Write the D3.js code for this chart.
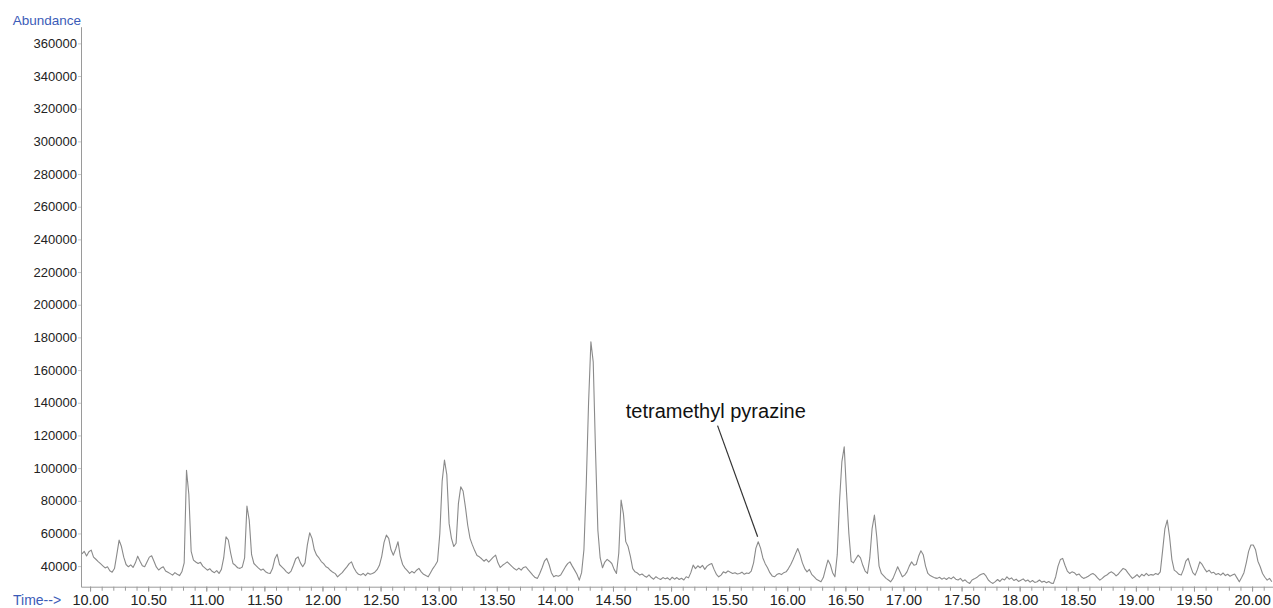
<!DOCTYPE html>
<html lang="en">
<head>
    <meta charset="UTF-8">
    <title>Chromatogram</title>
    <style>
        body { margin: 0; background: #fff; }
        svg text { font-family: "Liberation Sans", Arial, sans-serif; }
    </style>
</head>
<body>
    <svg id="chart" width="1273" height="608"></svg>

    <script src="https://d3js.org/d3.v7.min.js"></script>
    <script>
        // one scan every 0.02 min, first scan at 9.93 min
        const scanStart = 9.93
        const scanStep = 0.02
        const abundance = [
            // 9.93 - 10.41
            47500, 49000, 46200, 48800, 49800, 45500, 44200, 42800, 41500, 40200, 38900, 39600, 37200, 36300, 38500, 47000, 55900, 52000, 45500, 41000, 39600, 40800, 39200, 42000, 46100,
            // 10.43 - 10.91
            43000, 40200, 39600, 42500, 45500, 46300, 43000, 39500, 37600, 38800, 39600, 37000, 36200, 35400, 34500, 36000, 35000, 34200, 36500, 42000, 98700, 84000, 49000, 43700, 42500,
            // 10.93 - 11.41
            41600, 42300, 40000, 38800, 37500, 38400, 36800, 36000, 37200, 35500, 38000, 45000, 58000, 56000, 48000, 41600, 40500, 39000, 38600, 39500, 45000, 76700, 68000, 47000, 41600,
            // 11.43 - 11.91
            40200, 38800, 37500, 38200, 36600, 35800, 35500, 38500, 44500, 47200, 41000, 39600, 38200, 36500, 35500, 37000, 40500, 44500, 45700, 42000, 39600, 42000, 53000, 60400, 57000,
            // 11.93 - 12.41
            50000, 46700, 45000, 42800, 41500, 39600, 38800, 37300, 36200, 35400, 33450, 34800, 36000, 37800, 39500, 41500, 42600, 39000, 36500, 35000, 34500, 35500, 34200, 35800, 35000,
            // 12.43 - 12.91
            35500, 36300, 37800, 40500, 46000, 54500, 59000, 57000, 50000, 46700, 50500, 54900, 46000, 41000, 38800, 37200, 35500, 36800, 35800, 37500, 38600, 36500, 35000, 34200, 33450,
            // 12.93 - 13.41
            36000, 38500, 40500, 43000, 60000, 92000, 104900, 96000, 66000, 57000, 52000, 54000, 78400, 88500, 86000, 76300, 65000, 57000, 53000, 49500, 46500, 45700, 44500, 43000, 44200,
            // 13.43 - 13.91
            42500, 44000, 45500, 46700, 42000, 39200, 40500, 41500, 42600, 41200, 39800, 38500, 37550, 38800, 37500, 39200, 39600, 37800, 36200, 34500, 33000, 32500, 35500, 39000, 43000,
            // 13.93 - 14.41
            44700, 41000, 36000, 33450, 34200, 33800, 34500, 37000, 39500, 41500, 42600, 40000, 37550, 35000, 31400, 36000, 50000, 90000, 140000, 177300, 165000, 110000, 62000, 45000, 39000,
            // 14.43 - 14.91
            42500, 44100, 43000, 41600, 38000, 35500, 48000, 80400, 72000, 55000, 52000, 46000, 38500, 36500, 35800, 34500, 35200, 34000, 33200, 34600, 33000, 32000, 33500, 32500, 31800,
            // 14.93 - 15.41
            33000, 32200, 32800, 31600, 33200, 32000, 33000, 31800, 32600, 31500, 33500, 32800, 36000, 40600, 38500, 40200, 39000, 40500, 38000, 40000, 41000, 41600, 38000, 35000, 33450,
            // 15.43 - 15.91
            34500, 36500, 35800, 37100, 36200, 35500, 36000, 35200, 35500, 36300, 35000, 35800, 35500, 37000, 42000, 51000, 54900, 51000, 45000, 41500, 39000, 36000, 34000, 33450, 34800,
            // 15.93 - 16.41
            35500, 34800, 36000, 36500, 38500, 41000, 44000, 47500, 50800, 47000, 42000, 38500, 36500, 38000, 35000, 33500, 32000, 31200, 30400, 33000, 38500, 43700, 41000, 36000, 33450,
            // 16.43 - 16.91
            47000, 80000, 104000, 113000, 85000, 60000, 43000, 42000, 44500, 46700, 45000, 40500, 37000, 35500, 45000, 63000, 71200, 58000, 40000, 35500, 34000, 32500, 31500, 30400, 32500,
            // 16.93 - 17.41
            36000, 39600, 36500, 33450, 34500, 36500, 40000, 42600, 40500, 41000, 46000, 49400, 47000, 40000, 35500, 34200, 33500, 32800, 32500, 33200, 32000, 32800, 31800, 33000, 32200,
            // 17.43 - 17.91
            33450, 32000, 31500, 32500, 30800, 31600, 30200, 29400, 31500, 32200, 33000, 34200, 35000, 35500, 34000, 31500, 30200, 29400, 30500, 31800, 30600, 32200, 31500, 33450, 32000,
            // 17.93 - 18.41
            32800, 31200, 32000, 30600, 31400, 32200, 30800, 31500, 30200, 31200, 30000, 30400, 31500, 30200, 30800, 29800, 30600, 29600, 29400, 33500, 40000, 44000, 44700, 40500, 37000,
            // 18.43 - 18.91
            35500, 36500, 36000, 34500, 35200, 33500, 32500, 33000, 33800, 34800, 35500, 34500, 32800, 31400, 32500, 33800, 34500, 35800, 36500, 35500, 34000, 35200, 37000, 38600, 38000,
            // 18.93 - 19.41
            36000, 34200, 32500, 33500, 34800, 33200, 35000, 34000, 35600, 34200, 34800, 34500, 35500, 34800, 36500, 49500, 63000, 68200, 58000, 44000, 37550, 36500, 35000, 34500, 38000,
            // 19.43 - 19.91
            43000, 44700, 40000, 36000, 34500, 38000, 42600, 41000, 38500, 36500, 37500, 35800, 36200, 34800, 35500, 34500, 35800, 34200, 35000, 33800, 34500, 35200, 32800, 30400, 33000,
            // 19.93 - 20.17
            36000, 42000, 49000, 52900, 52900, 50000, 43000, 39600, 35500, 33200, 31400, 32500, 30400
        ]

        const timeTicks = [10, 10.5, 11, 11.5, 12, 12.5, 13, 13.5, 14, 14.5, 15, 15.5, 16, 16.5, 17, 17.5, 18, 18.5, 19, 19.5, 20]
        const abundanceTicks = [40000, 60000, 80000, 100000, 120000, 140000, 160000, 180000, 200000,
            220000, 240000, 260000, 280000, 300000, 320000, 340000, 360000]

        const peakName = "tetramethyl pyrazine"
        const peakNameAt = [14.61, 130500]          // time, abundance of label baseline start
        const peakPointer = [[15.40, 126000], [15.745, 58000]]

        const scans = abundance.map((a, i) => ({ time: scanStart + i * scanStep, abundance: a }))

        const svg = d3.select("#chart")

        const x = d3.scaleLinear()
            .domain([9.922, 20.18])
            .range([81, 1273])

        const y = d3.scaleLinear()
            .domain([27400, 370200])
            .range([586.7, 26.7])

        const axisColor = "#9a9a9a"
        const blue = "#3b5cb8"

        // minor ticks on time axis, every 0.1 min
        const minorTicks = d3.range(100, 202).map(d => d / 10)
        svg.append("g")
            .attr("transform", `translate(0, ${y.range()[0]})`)
            .call(d3.axisBottom(x).tickValues(minorTicks).tickSize(4).tickSizeOuter(0).tickFormat(""))
            .call(g => g.select(".domain").attr("stroke", axisColor))
            .call(g => g.selectAll(".tick line").attr("stroke", axisColor))

        // labelled ticks
        svg.append("g")
            .attr("transform", `translate(0, ${y.range()[0]})`)
            .call(d3.axisBottom(x).tickValues(timeTicks).tickSize(5).tickFormat(d3.format(".2f")))
            .call(g => g.select(".domain").remove())
            .call(g => g.selectAll(".tick line").attr("stroke", axisColor))
            .call(g => g.selectAll(".tick text")
                .attr("y", 18.6)
                .attr("dy", null)
                .attr("fill", "#222")
                .attr("font-size", "14.5px"))

        svg.append("g")
            .attr("transform", `translate(${x.range()[0]}, 0)`)
            .call(d3.axisLeft(y).tickValues(abundanceTicks).tickSize(3).tickPadding(1).tickSizeOuter(0).tickFormat(d3.format("d")))
            .call(g => g.select(".domain").attr("stroke", axisColor))
            .call(g => g.selectAll(".tick line").attr("stroke", "#c8c8c8"))
            .call(g => g.selectAll(".tick text")
                .attr("fill", "#222")
                .attr("font-size", "13px"))

        // trace
        const line = d3.line()
            .x(d => x(d.time))
            .y(d => y(d.abundance))

        svg.append("path")
            .datum(scans)
            .attr("fill", "none")
            .attr("stroke", "#8a8a8a")
            .attr("stroke-width", 1.1)
            .attr("stroke-linejoin", "round")
            .attr("d", line)

        // axis titles
        svg.append("text")
            .attr("x", 12.7)
            .attr("y", 24.5)
            .attr("fill", blue)
            .attr("font-size", "13.5px")
            .text("Abundance")

        svg.append("text")
            .attr("x", 13)
            .attr("y", 605)
            .attr("fill", blue)
            .attr("font-size", "14px")
            .text("Time-->")

        // annotation
        svg.append("line")
            .attr("x1", x(peakPointer[0][0]))
            .attr("y1", y(peakPointer[0][1]))
            .attr("x2", x(peakPointer[1][0]))
            .attr("y2", y(peakPointer[1][1]))
            .attr("stroke", "#333")
            .attr("stroke-width", 1.2)

        svg.append("text")
            .attr("x", x(peakNameAt[0]))
            .attr("y", y(peakNameAt[1]))
            .attr("fill", "#111")
            .attr("font-size", "20px")
            .text(peakName)
    </script>
</body>
</html>
